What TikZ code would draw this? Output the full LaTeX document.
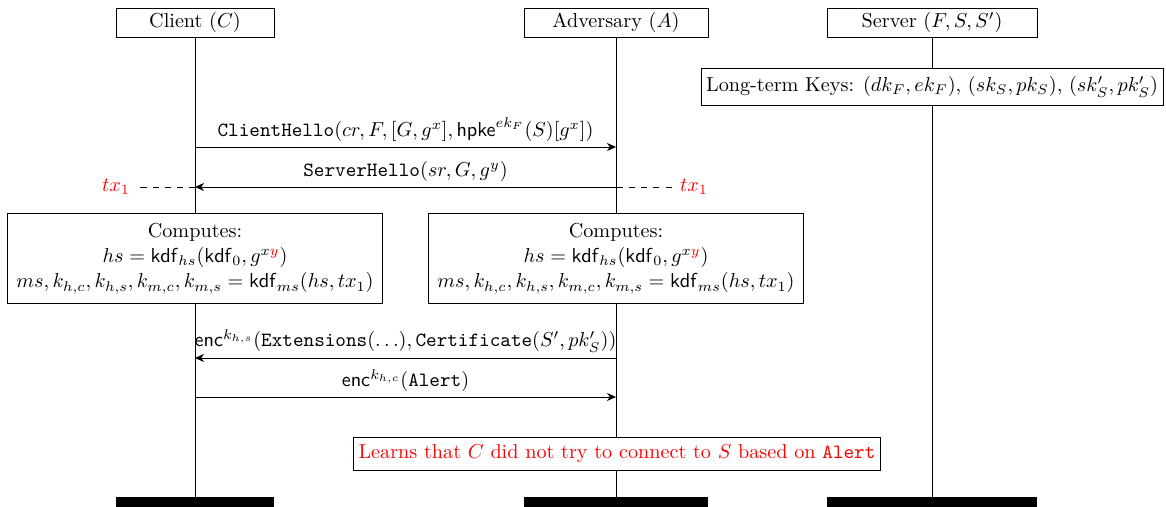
\documentclass[tikz,border=0pt]{standalone}
\usetikzlibrary{arrows.meta}
\begin{document}
\begin{tikzpicture}[x=0.495pt,y=-0.495pt,
  actor/.style={draw, fill=white, minimum height=14.4pt, inner sep=0pt},
  endbar/.style={fill=black, minimum height=4.95pt, inner sep=0pt},
  compbox/.style={draw, fill=white, align=center, inner xsep=4.5pt, inner ysep=5pt},
  notebox/.style={draw, fill=white, inner xsep=2.5pt, inner ysep=4pt},
  msg/.style={-{Stealth[length=4.5pt,width=4pt]}},
  lbl/.style={above, inner sep=2.5pt},
  txlbl/.style={text=red, inner xsep=4pt, inner ysep=1pt}]
\useasboundingbox (0,0) rectangle (1166,507);

% participants
\node[actor, minimum width=78.2pt]  (client) at (195,22.5) {Client $(C)$};
\node[actor, minimum width=91.1pt]  (adv)    at (616,22.5) {Adversary $(A)$};
\node[actor, minimum width=104pt]   (server) at (932,22.5) {Server $(F,S,S')$};

% end bars
\node[endbar, minimum width=78.2pt] (cend) at (195,502) {};
\node[endbar, minimum width=91.1pt] (aend) at (616,502) {};
\node[endbar, minimum width=104pt]  (send) at (932,502) {};

% boxes on the lifelines
\node[notebox] (keys) at (932,87)
  {Long-term Keys: $(dk_F, ek_F)$, $(sk_S, pk_S)$, $(sk'_S, pk'_S)$};
\node[compbox] (ccomp) at (195,258.5)
  {Computes:\\[0.5pt] $hs = \mathsf{kdf}_{hs}(\mathsf{kdf}_0, g^{x\textcolor{red}{y}})$\\[0.5pt]
   $ms, k_{h,c}, k_{h,s}, k_{m,c}, k_{m,s} = \mathsf{kdf}_{ms}(hs, tx_1)$};
\node[compbox] (acomp) at (616,258.5)
  {Computes:\\[0.5pt] $hs = \mathsf{kdf}_{hs}(\mathsf{kdf}_0, g^{x\textcolor{red}{y}})$\\[0.5pt]
   $ms, k_{h,c}, k_{h,s}, k_{m,c}, k_{m,s} = \mathsf{kdf}_{ms}(hs, tx_1)$};
\node[notebox, inner ysep=3.5pt] (learn) at (617,454)
  {\textcolor{red}{Learns that $C$ did not try to connect to $S$ based on \texttt{Alert}}};

% lifelines
\draw (client.south) -- (ccomp.north);
\draw (ccomp.south) -- (cend.north);
\draw (adv.south) -- (acomp.north);
\draw (acomp.south) -- (acomp.south |- learn.north);
\draw (aend.north |- learn.south) -- (aend.north);
\draw (server.south) -- (keys.north);
\draw (keys.south) -- (send.north);

% message end points on the lifelines
\coordinate (c1) at (195,147); \coordinate (a1) at (616,147);
\coordinate (c2) at (195,187); \coordinate (a2) at (616,187);
\coordinate (c3) at (195,358); \coordinate (a3) at (616,358);
\coordinate (c4) at (195,397); \coordinate (a4) at (616,397);

% transcript markers
\node[txlbl] (txl) at (116,187) {$tx_1$};
\node[txlbl] (txr) at (694,187) {$tx_1$};

% messages
\draw[msg] (c1) -- node[lbl]
  {$\texttt{ClientHello}(cr, F, [G, g^x], \mathsf{hpke}^{ek_F}(S)[g^x])$} (a1);
\draw[msg] (a2) -- node[lbl] {$\texttt{ServerHello}(sr, G, g^y)$} (c2);
\draw[dashed] (txr.west) -- (a2);
\draw[dashed] (c2) -- (txl.east);
\draw[msg] (a3) -- node[lbl]
  {$\mathsf{enc}^{k_{h,s}}(\texttt{Extensions}(\ldots), \texttt{Certificate}(S', pk'_S))$} (c3);
\draw[msg] (c4) -- node[lbl] {$\mathsf{enc}^{k_{h,c}}(\texttt{Alert})$} (a4);
\end{tikzpicture}
\end{document}
